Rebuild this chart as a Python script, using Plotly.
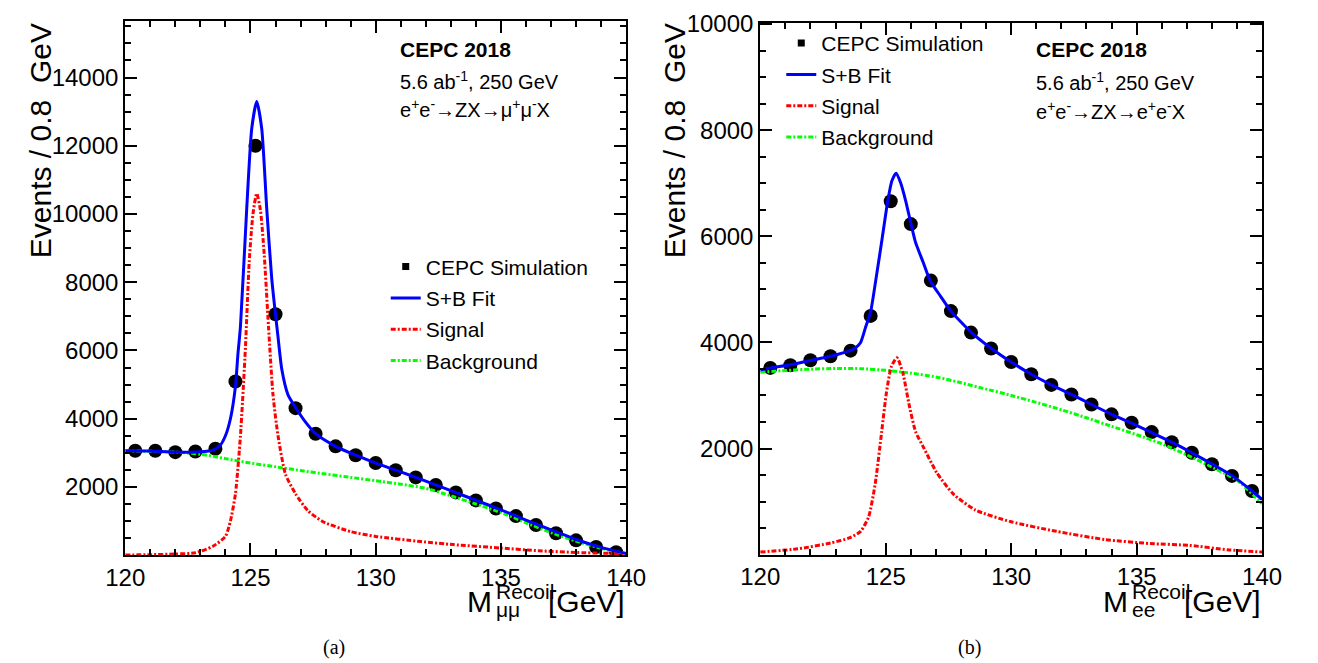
import plotly.graph_objects as go

# bin centres (0.8 GeV bins)
bins = [120.4, 121.2, 122.0, 122.8, 123.6, 124.4, 125.2, 126.0, 126.8, 127.6, 128.4, 129.2, 130.0,
        130.8, 131.6, 132.4, 133.2, 134.0, 134.8, 135.6, 136.4, 137.2, 138.0, 138.8, 139.6]

# (a) mu mu channel
sim_mm = [3060, 3060, 3020, 3040, 3120, 5090, 12000, 7060, 4310, 3560, 3190, 2930, 2700,
          2490, 2280, 2060, 1840, 1605, 1370, 1145, 885, 645, 435, 240, 85]

fit_x_mm = [120, 121, 122, 123, 123.5, 123.8, 124.0, 124.2, 124.4, 124.5, 124.6, 124.85, 125.05, 125.25,
            125.45, 125.65, 125.85, 126.0, 126.1, 126.25, 126.5, 126.8, 127.2, 127.6, 128.4, 129.2, 130,
            131, 132, 133, 134, 135, 136, 137, 138, 139, 140]
fit_y_mm = [3060, 3050, 3020, 3030, 3080, 3230, 3500, 4000, 4950, 5900, 6700, 10150, 12500, 13300,
            12500, 10150, 8100, 7050, 6400, 5450, 4700, 4330, 3900, 3560, 3190, 2930, 2700,
            2440, 2170, 1890, 1610, 1330, 1030, 740, 460, 230, 50]

sig_x_mm = [120, 121, 122, 122.8, 123.5, 124.0, 124.2, 124.4, 124.6, 124.8, 124.95, 125.1, 125.25, 125.4,
            125.55, 125.72, 125.9, 126.1, 126.4, 126.8, 127.3, 127.9, 129.0, 130, 131.8, 133.1, 135,
            136.5, 138, 140]
sig_y_mm = [5, 15, 35, 70, 260, 550, 1000, 1800, 3500, 6100, 8600, 10000, 10600, 10100,
            8800, 6700, 4700, 3500, 2370, 1800, 1300, 980, 690, 550, 400, 310, 210,
            130, 80, 40]

bkg_x_mm = [120, 121, 122, 123, 124, 125, 126, 127, 128, 129, 130, 131, 132, 133, 134, 135, 136, 137,
            138, 139, 140]
bkg_y_mm = [3060, 3045, 3020, 2960, 2830, 2700, 2590, 2480, 2380, 2280, 2180, 2080, 1960, 1740, 1500,
            1250, 950, 660, 410, 200, 45]

# (b) e e channel
sim_ee = [3520, 3570, 3665, 3740, 3845, 4500, 6660, 6230, 5165, 4590, 4185, 3885, 3630,
          3400, 3200, 3020, 2830, 2645, 2485, 2310, 2120, 1920, 1705, 1485, 1200]

fit_x_ee = [120, 120.4, 121.2, 122.0, 122.8, 123.6, 123.8, 124.0, 124.2, 124.4, 124.6, 124.84, 125.08,
            125.25, 125.42, 125.6, 125.8, 126.0, 126.18, 126.5, 126.77, 127.2, 127.58, 128.41, 129.2,
            130, 130.8, 131.6, 132.4, 133.2, 134.0, 134.8, 135.6, 136.4, 137.2, 138, 138.8, 139.6, 140]
fit_y_ee = [3480, 3520, 3580, 3660, 3740, 3850, 3900, 4000, 4290, 4580, 5160, 5900, 6660,
            7050, 7190, 7000, 6660, 6250, 5900, 5500, 5163, 4860, 4600, 4190, 3890,
            3630, 3400, 3200, 3020, 2830, 2645, 2480, 2300, 2120, 1920, 1710, 1490, 1200, 1040]

sig_x_ee = [120, 121.5, 122.8, 123.55, 124.0, 124.32, 124.58, 124.84, 125.03, 125.23, 125.45, 125.68,
            125.94, 126.19, 126.52, 127.03, 127.68, 128.58, 130, 131.8, 133.74, 135.55, 137.1, 138.7, 140]
sig_y_ee = [50, 110, 220, 315, 440, 715, 1330, 2320, 3060, 3550, 3710, 3430,
            2810, 2320, 2010, 1550, 1150, 840, 620, 440, 285, 210, 175, 90, 50]

bkg_x_ee = [120, 121, 122, 123, 124, 125, 126, 127, 128, 129, 130, 131, 132, 133, 134, 135, 136, 137,
            138, 139, 140]
bkg_y_ee = [3440, 3470, 3495, 3510, 3505, 3475, 3420, 3350, 3240, 3120, 3000, 2870, 2730, 2580, 2420,
            2260, 2090, 1880, 1650, 1400, 960]

FONT = "Liberation Sans"
DASH = "5px,2px,2px,2px"

# the page body has an 8px margin, so the figure is 8px smaller and
# page pixel positions are converted with px()/py()
OFF = 8
W, H = 1318 - OFF, 663 - OFF


def px(x):
    return (x - OFF) / W


def py(y):
    return (663 - y) / H


fig = go.Figure()


def add_panel(xa, ya, leg, sim, fx, fy, sx, sy, bx, by):
    fig.add_trace(go.Scatter(x=bins, y=sim, mode="markers", xaxis=xa, yaxis=ya,
                             marker=dict(color="black", size=14), showlegend=False))
    # legend-only entry with the small square marker
    fig.add_trace(go.Scatter(x=[None], y=[None], mode="markers", xaxis=xa, yaxis=ya,
                             marker=dict(color="black", size=7, symbol="square"),
                             name="CEPC Simulation", legend=leg, legendrank=1,
                             legendgroup=leg + "a"))
    fig.add_trace(go.Scatter(x=bx, y=by, mode="lines", xaxis=xa, yaxis=ya, name="Background",
                             line=dict(color="#00ff00", width=3, dash=DASH, shape="spline",
                                       smoothing=0.6),
                             legend=leg, legendrank=4, legendgroup=leg + "d"))
    fig.add_trace(go.Scatter(x=sx, y=sy, mode="lines", xaxis=xa, yaxis=ya, name="Signal",
                             line=dict(color="#ff0000", width=3, dash=DASH, shape="spline",
                                       smoothing=0.6),
                             legend=leg, legendrank=3, legendgroup=leg + "c"))
    fig.add_trace(go.Scatter(x=fx, y=fy, mode="lines", xaxis=xa, yaxis=ya, name="S+B Fit",
                             line=dict(color="#0000ff", width=3, shape="spline", smoothing=0.6),
                             legend=leg, legendrank=2, legendgroup=leg + "b"))


add_panel("x", "y", "legend", sim_mm, fit_x_mm, fit_y_mm, sig_x_mm, sig_y_mm, bkg_x_mm, bkg_y_mm)
add_panel("x2", "y2", "legend2", sim_ee, fit_x_ee, fit_y_ee, sig_x_ee, sig_y_ee, bkg_x_ee, bkg_y_ee)

axis_common = dict(showline=True, linecolor="black", linewidth=2, mirror="allticks",
                   ticks="inside", ticklen=12, tickwidth=1.5, tickcolor="black",
                   showgrid=False, zeroline=False, tickformat="d", ticklabeloverflow="allow",
                   tickfont=dict(family=FONT, size=24, color="black"))

xminor = dict(dtick=1, tick0=120, ticklen=6, tickcolor="black", ticks="inside")
yminor = dict(dtick=500, tick0=0, ticklen=6, tickcolor="black", ticks="inside")

fig.update_layout(
    width=W, height=H,
    margin=dict(l=0, r=0, t=0, b=0),
    paper_bgcolor="white", plot_bgcolor="white",
    font=dict(family=FONT, color="black"),
    xaxis=dict(domain=[px(108.3), px(625)], range=[120, 140], tickvals=[120, 125, 130, 135, 140],
               minor=xminor, anchor="y", **axis_common),
    # frame top clipped to the page edge (y=8), range top chosen to keep the scale
    yaxis=dict(domain=[py(553), 1.0], range=[0, 15657],
               tickvals=[2000, 4000, 6000, 8000, 10000, 12000, 14000],
               minor=yminor, anchor="x", **axis_common),
    xaxis2=dict(domain=[px(763.3), px(1281)], range=[120, 140], tickvals=[120, 125, 130, 135, 140],
                minor=xminor, anchor="y2", **axis_common),
    yaxis2=dict(domain=[py(552.5), py(10)], range=[0, 10020],
                tickvals=[2000, 4000, 6000, 8000, 10000],
                minor=yminor, anchor="x2", **axis_common),
    legend=dict(x=px(377), y=py(238), xanchor="left", yanchor="top",
                bgcolor="rgba(0,0,0,0)", font=dict(family=FONT, size=21),
                tracegroupgap=1, itemwidth=30),
    legend2=dict(x=px(785), y=py(10), xanchor="left", yanchor="top",
                 bgcolor="rgba(0,0,0,0)", font=dict(family=FONT, size=21),
                 tracegroupgap=1, itemwidth=30),
)

ann = []
# in-plot labels
for xr, yr, y1, y2, y3, proc in [("x", "y", 14820, 13905, 13100,
                                  "e<sup>+</sup>e<sup>-</sup>→ZX→μ<sup>+</sup>μ<sup>-</sup>X"),
                                 ("x2", "y2", 9511, 8919, 8363,
                                  "e<sup>+</sup>e<sup>-</sup>→ZX→e<sup>+</sup>e<sup>-</sup>X")]:
    ann.append(dict(x=130.9, y=y1, xref=xr, yref=yr, text="<b>CEPC 2018</b>", showarrow=False,
                    xanchor="left", yanchor="middle", font=dict(size=21)))
    ann.append(dict(x=130.9, y=y2, xref=xr, yref=yr, text="5.6 ab<sup>-1</sup>, 250 GeV",
                    showarrow=False, xanchor="left", yanchor="middle", font=dict(size=20)))
    ann.append(dict(x=130.9, y=y3, xref=xr, yref=yr, text=proc, showarrow=False,
                    xanchor="left", yanchor="middle", font=dict(size=20)))

# x axis titles: M with stacked super/subscripts
for dx, sub in [(0, "μμ"), (656, "ee")]:
    ann.append(dict(x=px(488 + dx), y=py(600), xref="paper", yref="paper", text="M",
                    showarrow=False, xanchor="right", yanchor="middle", font=dict(size=30),
                    borderpad=0))
    ann.append(dict(x=px(490 + dx), y=py(590), xref="paper", yref="paper", text="Recoil",
                    showarrow=False, xanchor="left", yanchor="middle", font=dict(size=21),
                    borderpad=0))
    ann.append(dict(x=px(490 + dx), y=py(608), xref="paper", yref="paper", text=sub,
                    showarrow=False, xanchor="left", yanchor="middle", font=dict(size=21),
                    borderpad=0))
    ann.append(dict(x=px(625 + dx), y=py(600), xref="paper", yref="paper", text="[GeV]",
                    showarrow=False, xanchor="right", yanchor="middle", font=dict(size=30),
                    borderpad=0))

# y axis titles
for xc in [21, 675]:
    ann.append(dict(x=px(xc), y=py(130), xref="paper", yref="paper",
                    text="Events / 0.8\u00a0 GeV",
                    textangle=-90, showarrow=False, xanchor="center", yanchor="middle",
                    font=dict(size=30)))

for xc, lab in [(323.5, "(a)"), (979, "(b)")]:
    ann.append(dict(x=px(xc), y=py(647), xref="paper", yref="paper", text=lab, showarrow=False,
                    xanchor="center", yanchor="middle", font=dict(family="Liberation Serif", size=20)))

fig.update_layout(annotations=ann)

fig.write_html("out.html")
